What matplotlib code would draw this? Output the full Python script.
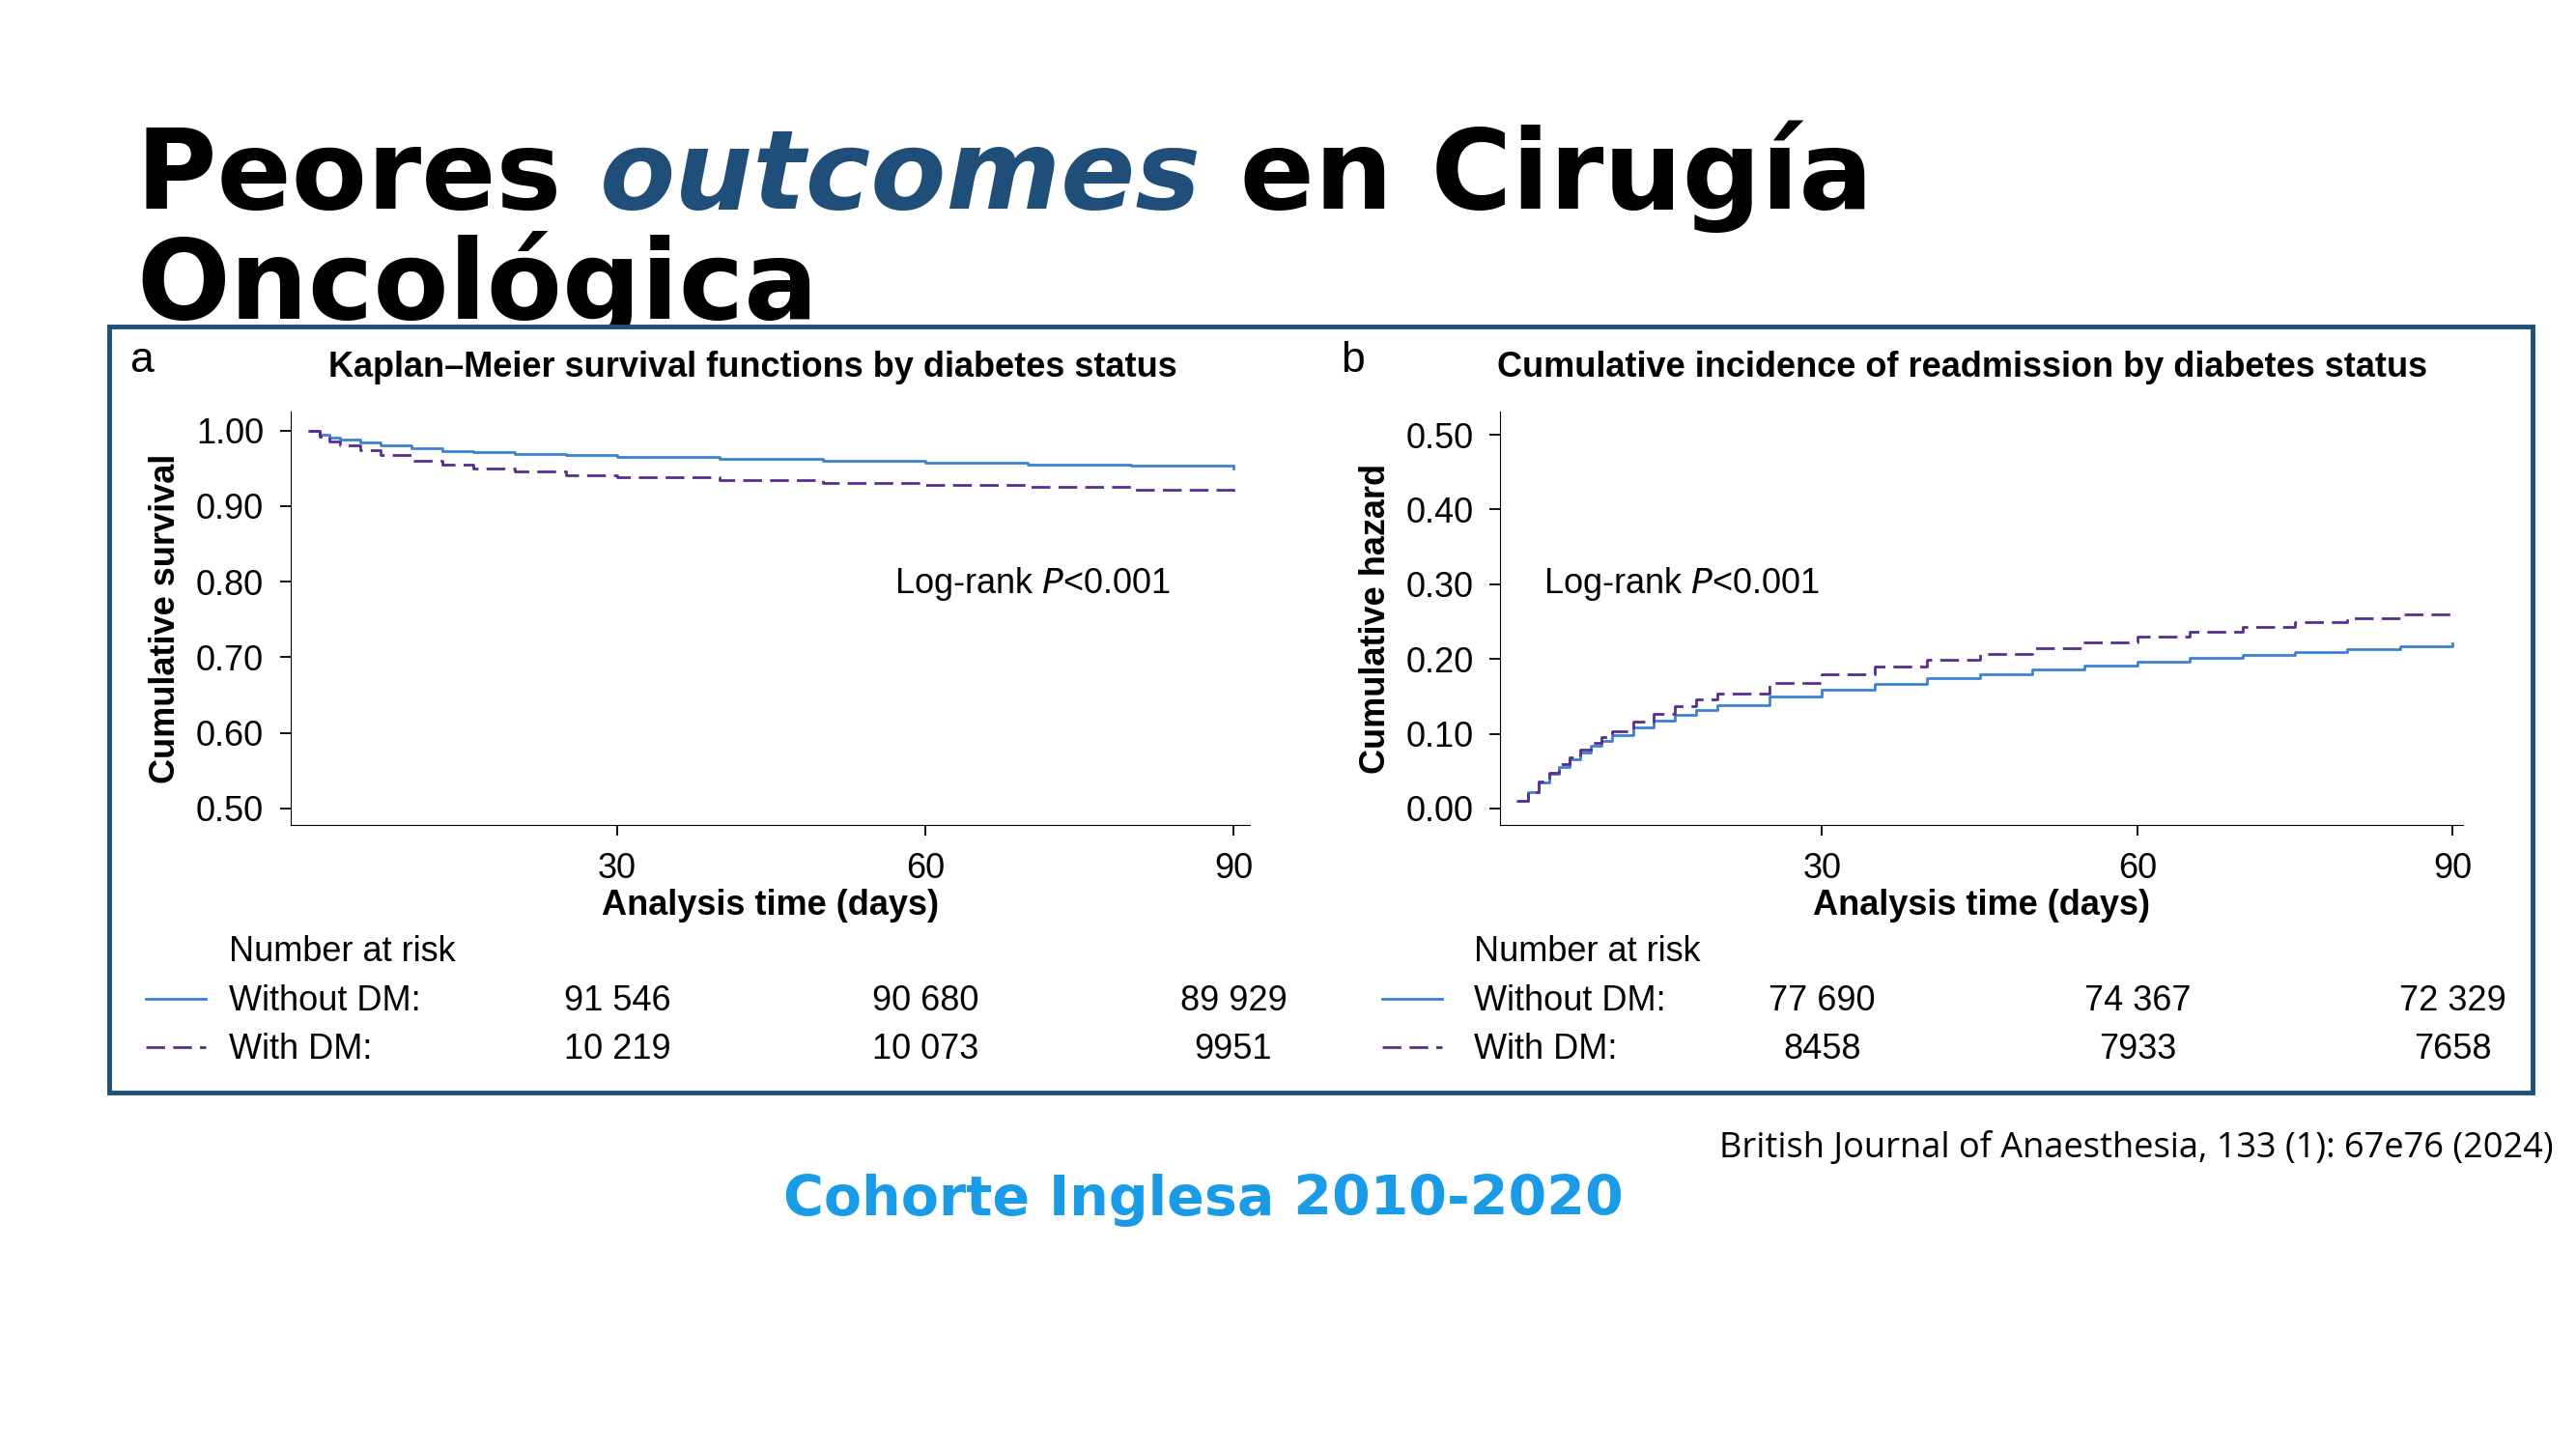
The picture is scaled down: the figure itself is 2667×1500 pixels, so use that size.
import matplotlib
matplotlib.use("Agg")
import matplotlib.pyplot as plt
from matplotlib.patches import Rectangle
from matplotlib.lines import Line2D

W, H = 1552.0, 873.0
def fx(x): return x / W
def fy(y): return 1 - y / H

# --- data ---
km_days = [0, 1, 2, 3, 5, 7, 10, 13, 16, 20, 25, 30, 40, 50, 60, 70, 80, 90]
km_without = [1.0, 0.995, 0.991, 0.988, 0.984, 0.980, 0.976, 0.973, 0.971, 0.969, 0.967, 0.965, 0.962, 0.960, 0.957, 0.955, 0.953, 0.950]
km_with = [1.0, 0.992, 0.986, 0.980, 0.974, 0.967, 0.960, 0.955, 0.950, 0.946, 0.941, 0.938, 0.934, 0.931, 0.928, 0.925, 0.921, 0.915]
ci_days = [1, 2, 3, 4, 5, 6, 7, 8, 9, 10, 12, 14, 16, 18, 20, 25, 30, 35, 40, 45, 50, 55, 60, 65, 70, 75, 80, 85, 90]
ci_without = [0.010, 0.022, 0.035, 0.046, 0.056, 0.066, 0.075, 0.084, 0.091, 0.098, 0.108, 0.117, 0.125, 0.132, 0.138, 0.150, 0.159, 0.167, 0.174, 0.180, 0.186, 0.191, 0.196, 0.201, 0.205, 0.209, 0.213, 0.217, 0.221]
ci_with = [0.010, 0.022, 0.036, 0.048, 0.059, 0.069, 0.079, 0.088, 0.096, 0.103, 0.116, 0.127, 0.137, 0.146, 0.154, 0.168, 0.179, 0.190, 0.199, 0.207, 0.215, 0.222, 0.230, 0.237, 0.243, 0.249, 0.255, 0.260, 0.265]
ticks_x = [30, 60, 90]
risk_a_without = ["91 546", "90 680", "89 929"]
risk_a_with = ["10 219", "10 073", "9951"]
risk_b_without = ["77 690", "74 367", "72 329"]
risk_b_with = ["8458", "7933", "7658"]

blue = "#3b82d6"
purple = "#5a2d91"
dark = "#1f4e79"
sf = "Liberation Sans"
FS = 26

fig = plt.figure(figsize=(26.67, 15), dpi=100)

r = fig.canvas.get_renderer()
TS = 82
t1 = fig.text(fx(82), fy(126), "Peores ", fontsize=TS, fontweight="bold", family="DejaVu Sans")
bb = t1.get_window_extent(r)
t2 = fig.text(bb.x1 / fig.bbox.width, fy(126), "outcomes", fontsize=TS, fontweight="bold", style="italic", color=dark, family="DejaVu Sans")
bb2 = t2.get_window_extent(r)
fig.text(bb2.x1 / fig.bbox.width, fy(126), " en Cirugía", fontsize=TS, fontweight="bold", family="DejaVu Sans")
fig.text(fx(82), fy(192), "Oncológica", fontsize=TS, fontweight="bold", family="DejaVu Sans", zorder=1)

box = Rectangle((fx(66), fy(658)), fx(1526) - fx(66), fy(197) - fy(658), transform=fig.transFigure,
                facecolor="white", edgecolor=dark, linewidth=3.5, zorder=2)
fig.add_artist(box)

def make_axes(left, right, xlim, ylim, yticks, ylabel, title, letter, tx, lx):
    ax = fig.add_axes([fx(left), fy(497), fx(right) - fx(left), fy(248) - fy(497)], zorder=3)
    ax.set_xlim(*xlim); ax.set_ylim(*ylim)
    ax.set_xticks(ticks_x); ax.set_yticks(yticks)
    ax.set_yticklabels([f"{v:.2f}" for v in yticks])
    for s in ["top", "right"]:
        ax.spines[s].set_visible(False)
    ax.tick_params(labelsize=FS, length=8, width=1.3, pad=12)
    for lab in ax.get_xticklabels() + ax.get_yticklabels():
        lab.set_family(sf)
    ax.set_xlabel("Analysis time (days)", fontsize=FS, fontweight="bold", family=sf, labelpad=2)
    ax.set_ylabel(ylabel, fontsize=FS, fontweight="bold", family=sf, labelpad=10)
    ax.patch.set_alpha(0)
    fig.text(fx(tx), fy(227), title, fontsize=FS, fontweight="bold", family=sf, zorder=4)
    fig.text(fx(lx), fy(224), letter, fontsize=32, family=sf, zorder=4)
    return ax

axa = make_axes(175, 753, (-1.8, 91.6), (0.478, 1.025), [0.5, 0.6, 0.7, 0.8, 0.9, 1.0],
                "Cumulative survival", "Kaplan\u2013Meier survival functions by diabetes status", "a", 198, 78)
axa.step(km_days, km_without, where="post", color=blue, lw=2)
axa.step(km_days, km_with, where="post", color=purple, lw=2, dashes=(7, 3))
axa.text(0.63, 0.56, "Log-rank $\\it{P}$<0.001", transform=axa.transAxes, fontsize=FS, family=sf)

axb = make_axes(904, 1484, (-0.6, 91.0), (-0.022, 0.531), [0.0, 0.1, 0.2, 0.3, 0.4, 0.5],
                "Cumulative hazard", "Cumulative incidence of readmission by diabetes status", "b", 902, 808)
axb.step(ci_days, ci_without, where="post", color=blue, lw=2)
axb.step(ci_days, ci_with, where="post", color=purple, lw=2, dashes=(7, 3))
axb.text(0.045, 0.56, "Log-rank $\\it{P}$<0.001", transform=axb.transAxes, fontsize=FS, family=sf)

def risk_table(ax, x0, xlab, without, withv):
    fig.text(fx(xlab), fy(579), "Number at risk", fontsize=FS, family=sf, zorder=4)
    for y, name, vals, col, dash in [(609, "Without DM:", without, blue, None), (638, "With DM:", withv, purple, (7, 3))]:
        fig.text(fx(xlab), fy(y), name, fontsize=FS, family=sf, zorder=4)
        ln = Line2D([fx(x0), fx(x0 + 36)], [fy(y - 7), fy(y - 7)], transform=fig.transFigure, color=col, lw=2, zorder=4)
        if dash: ln.set_dashes(dash)
        fig.add_artist(ln)
        for t, v in zip(ticks_x, vals):
            xd = ax.transData.transform((t, 0))[0] / fig.bbox.width
            fig.text(xd, fy(y), v, fontsize=FS, family=sf, ha="center", zorder=4)

risk_table(axa, 88, 138, risk_a_without, risk_a_with)
risk_table(axb, 833, 888, risk_b_without, risk_b_with)

fig.text(fx(1036), fy(697), "British Journal of Anaesthesia, 133 (1): 67e76 (2024)", fontsize=26, family="Open Sans")
fig.text(fx(725), fy(732), "Cohorte Inglesa 2010-2020", fontsize=41, fontweight="bold", color="#1a9be8",
         family="DejaVu Sans", ha="center")

fig.savefig("out.png", dpi=100)
